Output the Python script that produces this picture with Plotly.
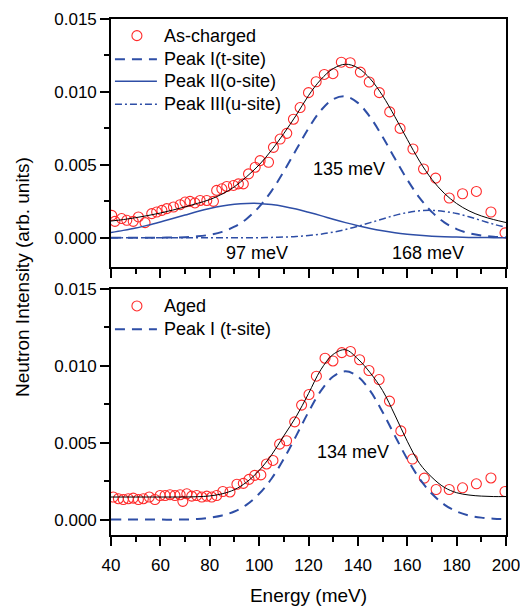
import plotly.graph_objects as go

# ---------------- data (intensity in units of 1e-3, arb. units) ----------------
# As-charged sample (top panel)
ac_energy = [40.3, 41.6, 44.3, 46.4, 49.0, 51.1, 53.8, 56.5, 58.5, 60.6, 62.6, 65.3,
             68.0, 70.0, 72.0, 74.0, 76.1, 78.8, 81.5, 82.8, 84.9, 86.9, 89.6, 91.6,
             93.6, 95.7, 98.4, 100.4, 103.8, 105.8, 108.5, 111.2, 113.9, 116.6, 120.0,
             123.1, 126.4, 129.9, 133.3, 136.9, 141.0, 144.6, 148.7, 152.9, 157.1,
             162.3, 166.6, 171.5, 177.0, 182.4, 188.0, 193.9, 199.6]
ac_intensity = [1.54, 1.13, 1.32, 1.20, 1.13, 1.43, 1.04, 1.66, 1.77, 1.88, 2.00, 2.11,
                2.27, 2.45, 2.50, 2.39, 2.56, 2.56, 2.50, 3.25, 3.36, 3.52, 3.59, 3.70,
                3.70, 4.38, 4.84, 5.29, 5.18, 6.20, 6.77, 7.16, 8.13, 8.93, 9.95,
                10.70, 11.20, 11.25, 12.04, 12.00, 11.36, 10.68, 9.95, 8.63, 7.50,
                6.09, 4.72, 4.09, 2.73, 3.02, 3.18, 1.77, 0.34]

# fitted curves (top panel), read at 5 meV steps
fit_energy = [40, 45, 50, 55, 60, 65, 70, 75, 80, 85, 90, 95, 100, 105, 110, 115, 120,
              125, 130, 135, 140, 145, 150, 155, 160, 165, 170, 175, 180, 185, 190, 195, 200]
ac_fit_total = [1.15, 1.25, 1.38, 1.53, 1.70, 1.90, 2.12, 2.36, 2.62, 3.00, 3.50, 4.20,
                5.00, 6.00, 7.15, 8.40, 9.75, 10.85, 11.60, 11.90, 11.65, 10.90, 9.75,
                8.30, 6.75, 5.25, 4.00, 3.05, 2.35, 1.85, 1.50, 1.25, 1.05]
ac_peak1 = [0.0, 0.0, 0.0, 0.0, 0.01, 0.02, 0.04, 0.10, 0.21, 0.41, 0.76, 1.31, 2.12,
            3.20, 4.55, 6.03, 7.50, 8.73, 9.50, 9.69, 9.25, 8.27, 6.93, 5.43, 3.99,
            2.74, 1.76, 1.06, 0.60, 0.32, 0.16, 0.07, 0.03]
ac_peak2 = [0.37, 0.51, 0.67, 0.87, 1.09, 1.32, 1.56, 1.80, 2.01, 2.18, 2.30, 2.36,
            2.36, 2.28, 2.15, 1.97, 1.75, 1.52, 1.27, 1.04, 0.83, 0.64, 0.48, 0.35,
            0.25, 0.17, 0.11, 0.07, 0.05, 0.03, 0.02, 0.01, 0.01]
ac_peak3 = [0.0, 0.0, 0.0, 0.0, 0.0, 0.0, 0.0, 0.0, 0.0, 0.0, 0.0, 0.01, 0.01, 0.03,
            0.05, 0.09, 0.16, 0.25, 0.39, 0.57, 0.79, 1.04, 1.29, 1.54, 1.73, 1.85,
            1.88, 1.81, 1.66, 1.44, 1.19, 0.93, 0.72]

# Aged sample (bottom panel)
ag_energy = [40.9, 43.0, 45.0, 47.0, 49.0, 51.1, 53.1, 55.5, 57.8, 59.9, 61.9, 63.9,
             65.9, 68.0, 69.1, 70.7, 72.7, 74.7, 76.8, 78.8, 80.8, 82.8, 85.3, 88.2,
             91.0, 93.6, 95.9, 98.2, 100.7, 103.0, 105.6, 108.3, 111.1, 114.4, 117.2,
             120.2, 123.2, 126.7, 129.9, 133.5, 137.0, 140.7, 144.5, 148.6, 152.8,
             157.4, 162.1, 166.9, 171.7, 177.0, 182.4, 188.0, 193.9, 199.6]
ag_intensity = [1.47, 1.36, 1.31, 1.36, 1.40, 1.31, 1.36, 1.47, 1.31, 1.57, 1.57, 1.62,
                1.57, 1.62, 1.19, 1.68, 1.53, 1.57, 1.47, 1.53, 1.47, 1.57, 1.83, 1.80,
                2.30, 2.36, 2.62, 2.88, 2.91, 3.62, 3.85, 4.91, 5.13, 6.36, 7.45,
                8.14, 9.33, 10.50, 10.32, 10.86, 10.94, 10.40, 9.70, 9.11, 7.71,
                5.77, 3.94, 2.70, 1.96, 1.96, 2.07, 2.33, 2.71, 1.83]
ag_fit_total = [1.47, 1.47, 1.47, 1.47, 1.47, 1.47, 1.47, 1.49, 1.54, 1.68, 1.95, 2.45,
                3.20, 4.20, 5.45, 6.70, 8.20, 9.75, 10.75, 11.05, 10.45, 9.55, 8.40,
                6.80, 5.10, 3.65, 2.75, 2.10, 1.75, 1.60, 1.53, 1.50, 1.50]
ag_peak1 = [0.0, 0.0, 0.0, 0.0, 0.0, 0.0, 0.01, 0.04, 0.13, 0.27, 0.53, 0.98, 1.68,
            2.66, 3.95, 5.45, 7.00, 8.37, 9.31, 9.65, 9.31, 8.37, 7.00, 5.45, 3.95,
            2.66, 1.68, 0.98, 0.53, 0.27, 0.13, 0.06, 0.03]

x_ticks = [40, 60, 80, 100, 120, 140, 160, 180, 200]
y_ticks = [0.000, 0.005, 0.010, 0.015]

top_legend_names = ["As-charged", "Peak I(t-site)", "Peak II(o-site)", "Peak III(u-site)"]
bot_legend_names = ["Aged", "Peak I (t-site)"]


def scale(vals):
    return [v * 1e-3 for v in vals]


BLUE = "#2e4ea6"
RED = "#ff2a2a"
FONT = "Liberation Sans, Arial, Helvetica, sans-serif"
DASH1 = "10px,7px"
DASH3 = "7px,3px,2px,3px"

fig = go.Figure()

# ---- top panel ----
fig.add_trace(go.Scatter(x=ac_energy, y=scale(ac_intensity), mode="markers", name=top_legend_names[0],
                         marker=dict(symbol="circle-open", size=10, color=RED, line=dict(width=1.1)),
                         xaxis="x", yaxis="y"))
fig.add_trace(go.Scatter(x=fit_energy, y=scale(ac_peak1), mode="lines", name=top_legend_names[1],
                         line=dict(color=BLUE, width=2, dash=DASH1, shape="spline"),
                         xaxis="x", yaxis="y"))
fig.add_trace(go.Scatter(x=fit_energy, y=scale(ac_peak2), mode="lines", name=top_legend_names[2],
                         line=dict(color=BLUE, width=1.5, shape="spline"),
                         xaxis="x", yaxis="y"))
fig.add_trace(go.Scatter(x=fit_energy, y=scale(ac_peak3), mode="lines", name=top_legend_names[3],
                         line=dict(color=BLUE, width=1.5, dash=DASH3, shape="spline"),
                         xaxis="x", yaxis="y"))
fig.add_trace(go.Scatter(x=fit_energy, y=scale(ac_fit_total), mode="lines", name="Fit (as-charged)",
                         line=dict(color="black", width=1, shape="spline"),
                         xaxis="x", yaxis="y"))

# ---- bottom panel ----
fig.add_trace(go.Scatter(x=ag_energy, y=scale(ag_intensity), mode="markers", name=bot_legend_names[0],
                         marker=dict(symbol="circle-open", size=10, color=RED, line=dict(width=1.1)),
                         xaxis="x2", yaxis="y2"))
fig.add_trace(go.Scatter(x=fit_energy, y=scale(ag_peak1), mode="lines", name=bot_legend_names[1],
                         line=dict(color=BLUE, width=2, dash=DASH1, shape="spline"),
                         xaxis="x2", yaxis="y2"))
fig.add_trace(go.Scatter(x=fit_energy, y=scale(ag_fit_total), mode="lines", name="Fit (aged)",
                         line=dict(color="black", width=1, shape="spline"),
                         xaxis="x2", yaxis="y2"))

TOP_DOM = [0.5194, 1.0]
BOT_DOM = [0.0, 0.4767]

common_x = dict(range=[40, 200], tickvals=x_ticks, ticks="outside", ticklen=9, tickwidth=1.5,
                tickcolor="black", showline=True, linewidth=1.6, linecolor="black", mirror=True,
                showgrid=False, zeroline=False, automargin=False, ticklabelstandoff=5,
                minor=dict(dtick=10, tick0=40, ticks="outside", ticklen=5, tickwidth=1.5, tickcolor="black"),
                tickfont=dict(size=17, color="black", family=FONT))
common_y = dict(tickvals=y_ticks, tickformat=".3f", ticks="outside", ticklen=9, tickwidth=1.5,
                tickcolor="black", showline=True, linewidth=1.6, linecolor="black", mirror=True,
                showgrid=False, zeroline=False, automargin=False,
                minor=dict(dtick=0.0025, tick0=0, ticks="outside", ticklen=5, tickwidth=1.5, tickcolor="black"),
                tickfont=dict(size=17, color="black", family=FONT))
mirror_x = dict(range=[40, 200], side="top", tickvals=x_ticks, ticks="inside", ticklen=6, tickwidth=1.5,
                tickcolor="black", showticklabels=False, showline=False, showgrid=False, zeroline=False,
                automargin=False,
                minor=dict(dtick=10, tick0=40, ticks="inside", ticklen=4, tickwidth=1.5, tickcolor="black"))
mirror_y = dict(side="right", tickvals=y_ticks, ticks="inside", ticklen=6, tickwidth=1.5,
                tickcolor="black", showticklabels=False, showline=False, showgrid=False, zeroline=False,
                automargin=False,
                minor=dict(dtick=0.0025, tick0=0, ticks="inside", ticklen=4, tickwidth=1.5, tickcolor="black"))

# The page body adds an 8px offset, so the figure is 8px smaller than the window.
fig.update_layout(
    width=520, height=598,
    margin=dict(l=103, r=22, t=11, b=71, autoexpand=False),
    paper_bgcolor="white", plot_bgcolor="white",
    font=dict(family=FONT, color="black", size=17),
    showlegend=False,
    xaxis=dict(**common_x, domain=[0, 1], anchor="y", showticklabels=False),
    yaxis=dict(**common_y, domain=TOP_DOM, anchor="x", range=[-0.002, 0.015]),
    xaxis2=dict(**common_x, domain=[0, 1], anchor="y2",
                title=dict(text="Energy (meV)", font=dict(size=19, family=FONT), standoff=14)),
    yaxis2=dict(**common_y, domain=BOT_DOM, anchor="x2", range=[-0.001, 0.015]),
    xaxis3=dict(**mirror_x, overlaying="x", anchor="y"),
    yaxis3=dict(**mirror_y, overlaying="y", anchor="x", range=[-0.002, 0.015]),
    xaxis4=dict(**mirror_x, overlaying="x2", anchor="y2"),
    yaxis4=dict(**mirror_y, overlaying="y2", anchor="x2", range=[-0.001, 0.015]),
)

# ---- legends (drawn as keys + text inside each panel) ----
leg_font = dict(size=18, family=FONT, color="black")
top_rows_y = [0.01386, 0.01224, 0.01074, 0.00915]
sample_x0, sample_x1, marker_x, text_x = 41.6, 58.6, 50.5, 60.7
fig.add_shape(type="circle", xref="x", yref="y", xsizemode="pixel", ysizemode="pixel",
              xanchor=marker_x, yanchor=top_rows_y[0], x0=-5, x1=5, y0=-5, y1=5,
              line=dict(color=RED, width=1.1))
line_styles = [dict(color=BLUE, width=2, dash=DASH1), dict(color=BLUE, width=1.5),
               dict(color=BLUE, width=1.5, dash=DASH3)]
for yy, ls in zip(top_rows_y[1:], line_styles):
    fig.add_shape(type="line", xref="x", yref="y", x0=sample_x0, x1=sample_x1, y0=yy, y1=yy, line=ls)
for yy, name in zip(top_rows_y, top_legend_names):
    fig.add_annotation(x=text_x, y=yy, xref="x", yref="y", text=name, showarrow=False,
                       xanchor="left", yanchor="middle", font=leg_font)

bot_rows_y = [0.0139, 0.01239]
fig.add_shape(type="circle", xref="x2", yref="y2", xsizemode="pixel", ysizemode="pixel",
              xanchor=marker_x, yanchor=bot_rows_y[0], x0=-5, x1=5, y0=-5, y1=5,
              line=dict(color=RED, width=1.1))
fig.add_shape(type="line", xref="x2", yref="y2", x0=sample_x0, x1=sample_x1,
              y0=bot_rows_y[1], y1=bot_rows_y[1], line=dict(color=BLUE, width=2, dash=DASH1))
for yy, name in zip(bot_rows_y, bot_legend_names):
    fig.add_annotation(x=text_x, y=yy, xref="x2", yref="y2", text=name, showarrow=False,
                       xanchor="left", yanchor="middle", font=leg_font)

ann_font = dict(size=18, family=FONT, color="black")
fig.add_annotation(x=136.5, y=0.0047, xref="x", yref="y", text="135 meV", showarrow=False, font=ann_font)
fig.add_annotation(x=99, y=-0.00107, xref="x", yref="y", text="97 meV", showarrow=False, font=ann_font)
fig.add_annotation(x=168.5, y=-0.00107, xref="x", yref="y", text="168 meV", showarrow=False, font=ann_font)
fig.add_annotation(x=138, y=0.0044, xref="x2", yref="y2", text="134 meV", showarrow=False, font=ann_font)
fig.add_annotation(x=-0.2253, y=0.5, xref="paper", yref="paper", text="Neutron Intensity (arb. units)",
                   textangle=-90, showarrow=False, xanchor="center", yanchor="middle",
                   font=dict(size=19, family=FONT, color="black"))

fig.write_html("out.html")
